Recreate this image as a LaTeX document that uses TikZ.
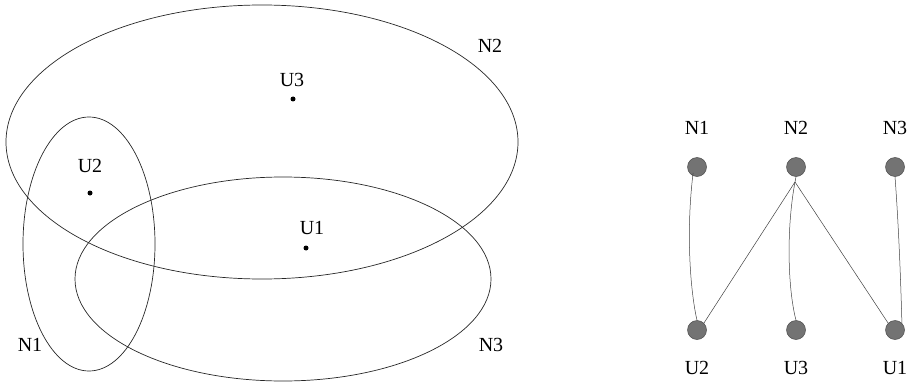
\documentclass[tikz,border=0pt]{standalone}
\usepackage{fontspec}
\setmainfont{Liberation Serif}
\begin{document}
\begin{tikzpicture}[x=1pt,y=-1pt,
  lbl/.style={font=\fontsize{20}{20}\selectfont, inner sep=0pt},
  setline/.style={draw=black!85, line width=0.7pt},
  pt/.style={circle, fill=black, inner sep=0pt, minimum size=5pt},
  vtx/.style={circle, draw=black!70, fill=black!55, line width=0.5pt, inner sep=0pt, minimum width=17pt, minimum height=19pt},
  edge/.style={draw=black!75, line width=0.5pt}]
\useasboundingbox (0,0) rectangle (912,385);
% sets
\draw[setline] (262,142) ellipse [x radius=256, y radius=137];
\draw[setline] (89,244) ellipse [x radius=66, y radius=127];
\draw[setline] (283,279) ellipse [x radius=208, y radius=102];
% points
\node[pt] (p3) at (293,99) {};
\node[pt] (p2) at (90,193) {};
\node[pt] (p1) at (306,248) {};
\node[lbl] (lu3) at (292,80) {U3};
\node[lbl] (lu2) at (90,166) {U2};
\node[lbl] (lu1) at (312,228) {U1};
\node[lbl] (ln2) at (490,46) {N2};
\node[lbl] (ln1) at (30,345) {N1};
\node[lbl] (ln3) at (491,345) {N3};
% bipartite graph
\node[vtx] (n1) at (697,167) {};
\node[vtx] (n2) at (796,167) {};
\node[vtx] (n3) at (895,167) {};
\node[vtx] (u2) at (697,330) {};
\node[vtx] (u3) at (796,330) {};
\node[vtx] (u1) at (895,330) {};
\node[lbl] (tn1) at (697,128) {N1};
\node[lbl] (tn2) at (796,128) {N2};
\node[lbl] (tn3) at (895,128) {N3};
\node[lbl] (tu2) at (697,368) {U2};
\node[lbl] (tu3) at (796,368) {U3};
\node[lbl] (tu1) at (895,368) {U1};
\coordinate (hub) at (795,182);
\draw[edge] (n1.south west) ++(3,-1) .. controls (686,230) and (690,290) .. (u2.north);
\draw[edge] (hub) -- (u2.north east);
\draw[edge] (hub) .. controls (786,230) and (788,290) .. (u3.north);
\draw[edge] (hub) -- (u1.north west);
\draw[edge] (n3.south) .. controls (899,230) and (901,290) .. (u1.north east);
\draw[edge] (n2.south) -- (hub);
\end{tikzpicture}
\end{document}
